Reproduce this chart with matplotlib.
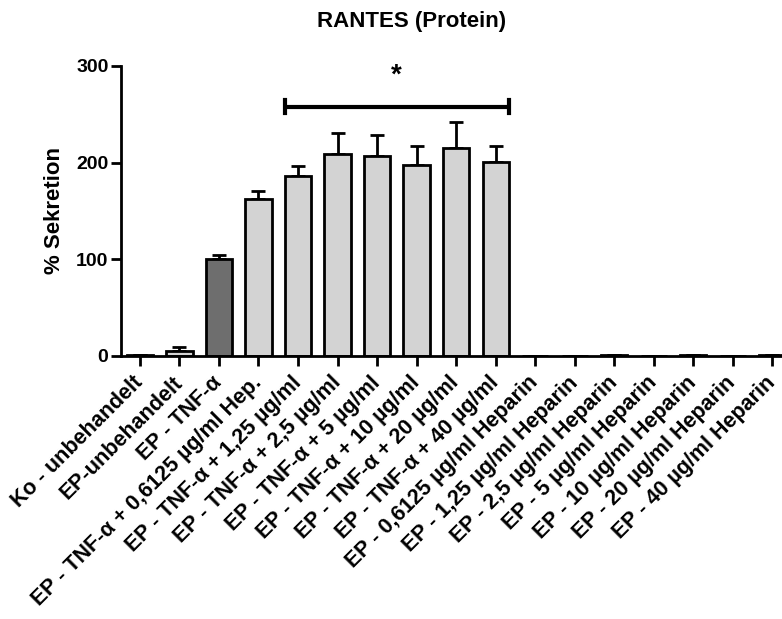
import matplotlib
matplotlib.use("Agg")
import matplotlib.pyplot as plt
import matplotlib.transforms as mtransforms
import numpy as np

plt.rcParams['font.family'] = ['Liberation Sans', 'DejaVu Sans']

categories = [
    "Ko - unbehandelt",
    "EP-unbehandelt",
    "EP - TNF-α",
    "EP - TNF-α + 0,6125 µg/ml Hep.",
    "EP - TNF-α + 1,25 µg/ml",
    "EP - TNF-α + 2,5 µg/ml",
    "EP - TNF-α + 5 µg/ml",
    "EP - TNF-α + 10 µg/ml",
    "EP - TNF-α + 20 µg/ml",
    "EP - TNF-α + 40 µg/ml",
    "EP - 0,6125 µg/ml Heparin",
    "EP - 1,25 µg/ml Heparin",
    "EP - 2,5 µg/ml Heparin",
    "EP - 5 µg/ml Heparin",
    "EP - 10 µg/ml Heparin",
    "EP - 20 µg/ml Heparin",
    "EP - 40 µg/ml Heparin",
]
values = [1, 5, 100, 162, 186, 209, 207, 198, 215, 201, 0, 0, 1, 0, 1, 0, 1]
errors = [0.5, 4, 5, 9, 11, 22, 22, 19, 27, 16, 0, 0, 0.5, 0, 0.5, 0, 0.5]
colors = ["#d3d3d3", "#d3d3d3", "#6e6e6e"] + ["#d3d3d3"] * 14

sig_from, sig_to = 4, 9
sig_y = 258
star_y = 290

fig = plt.figure(figsize=(7.82, 6.19), dpi=100)
ax = fig.add_axes([121/782, 1-356/619, (782-121)/782, (356-66)/619])

x = np.arange(len(categories))
bw = 0.66
ax.bar(x, values, width=bw, color=colors, edgecolor="black", linewidth=2, zorder=2)
ax.errorbar(x, values, yerr=[np.zeros(len(errors)), errors], fmt="none",
            ecolor="black", elinewidth=2, capsize=5, capthick=2, zorder=1)

# significance bracket
ax.plot([sig_from - bw/2, sig_to + bw/2], [sig_y, sig_y], color="black", lw=3,
        solid_capstyle="butt", clip_on=False)
for xe in (sig_from - bw/2, sig_to + bw/2):
    ax.plot([xe, xe], [sig_y - 7, sig_y + 7], color="black", lw=3, clip_on=False)
ax.text((sig_from + sig_to) / 2, star_y, "*", ha="center", va="center",
        fontsize=20, fontweight="bold", clip_on=False)

ax.set_ylim(0, 300)
ax.set_xlim(-0.48, 16.25)
ax.set_yticks([0, 100, 200, 300])
ax.set_xticks(x)
ax.set_xticklabels(categories, rotation=45, ha="right", va="center",
                   rotation_mode="anchor", fontsize=15.5, fontweight="bold")
offset = mtransforms.ScaledTranslation(5/100, -4/100, fig.dpi_scale_trans)
for lab in ax.get_xticklabels():
    lab.set_transform(lab.get_transform() + offset)
for lab in ax.get_yticklabels():
    lab.set_fontweight("bold")
    lab.set_fontsize(14)

for s in ["top", "right"]:
    ax.spines[s].set_visible(False)
for s in ["left", "bottom"]:
    ax.spines[s].set_linewidth(2)
ax.tick_params(axis="y", width=2, length=7, direction="out", pad=2)
ax.tick_params(axis="x", width=2, length=7, direction="out", pad=10)

ax.set_ylabel("% Sekretion", fontsize=16, fontweight="bold", labelpad=8)
fig.text(412/782, 1-22/619, "RANTES (Protein)", ha="center", va="center",
         fontsize=16, fontweight="bold")

fig.savefig("out.png", dpi=100)
